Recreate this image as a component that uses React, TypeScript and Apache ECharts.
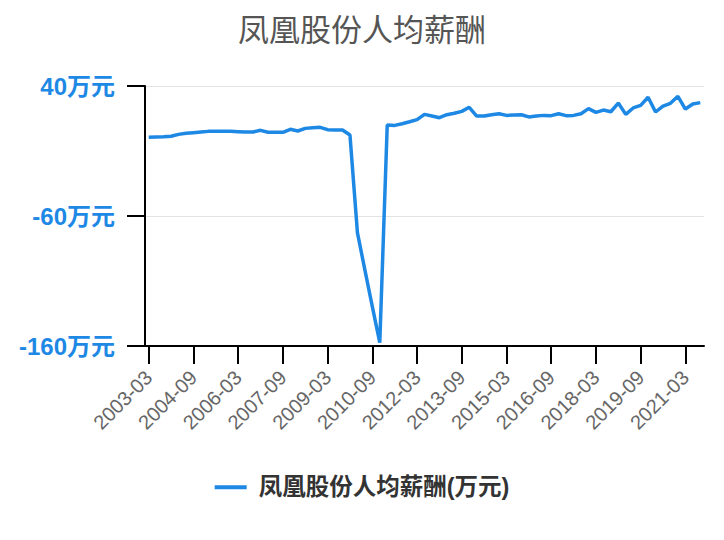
import React, { useEffect, useRef } from 'react';
import * as echarts from 'echarts';

const quarters: string[] = [
  '2003-03', '2003-06', '2003-09', '2003-12', '2004-03', '2004-06', '2004-09', '2004-12',
  '2005-03', '2005-06', '2005-09', '2005-12', '2006-03', '2006-06', '2006-09', '2006-12',
  '2007-03', '2007-06', '2007-09', '2007-12', '2008-03', '2008-06', '2008-09', '2008-12',
  '2009-03', '2009-06', '2009-09', '2009-12', '2010-03', '2010-06', '2010-09', '2010-12',
  '2011-03', '2011-06', '2011-09', '2011-12', '2012-03', '2012-06', '2012-09', '2012-12',
  '2013-03', '2013-06', '2013-09', '2013-12', '2014-03', '2014-06', '2014-09', '2014-12',
  '2015-03', '2015-06', '2015-09', '2015-12', '2016-03', '2016-06', '2016-09', '2016-12',
  '2017-03', '2017-06', '2017-09', '2017-12', '2018-03', '2018-06', '2018-09', '2018-12',
  '2019-03', '2019-06', '2019-09', '2019-12', '2020-03', '2020-06', '2020-09', '2020-12',
  '2021-03', '2021-06', '2021-09',
];

// 人均薪酬 (万元)
const salary: number[] = [
  0.5, 0.8, 0.9, 1.3, 2.8, 3.6, 4.1, 4.6, 5.1, 5.1,
  5.1, 5.1, 4.9, 4.6, 4.6, 5.9, 4.4, 4.4, 4.4, 6.7,
  5.4, 7.4, 7.9, 8.2, 6.4, 6.2, 6.2, 2.3, -72.8, -101.5,
  -129.7, -157.5, 10, 9.7, 11, 12.5, 14.1, 18.2, 16.9, 15.6,
  17.9, 19, 20.5, 23.6, 16.9, 16.9, 17.9, 18.7, 17.4, 17.7,
  17.9, 16.2, 16.9, 17.4, 17.2, 18.7, 17.2, 17.4, 18.7, 22.6,
  19.7, 21.5, 20.2, 26.9, 18.2, 23.1, 25.1, 31.3, 20, 24.6,
  26.7, 32.1, 22.3, 26.2, 27.2,
];

const yMin = -160;
const yMax = 40;
const yStep = 100;

const BLUE = '#1e88e5';
const FONT = '"Liberation Sans", Arial, "Noto Sans CJK SC", sans-serif';

const App: React.FC = () => {
  const chartRef = useRef<HTMLDivElement>(null);

  useEffect(() => {
    document.body.style.margin = '0';
    if (!chartRef.current) return;
    const chart = echarts.init(chartRef.current, undefined, { renderer: 'svg' });

    const option: echarts.EChartsOption = {
      animation: false,
      textStyle: { fontFamily: FONT },
      title: {
        text: '凤凰股份人均薪酬',
        left: 'center',
        top: 10,
        textStyle: { fontSize: 31, fontWeight: 'normal', color: '#555', fontFamily: FONT },
      },
      legend: {
        bottom: 36,
        left: 'center',
        icon: 'rect',
        itemWidth: 32,
        itemHeight: 4,
        textStyle: { fontSize: 23.5, fontWeight: 'bold', color: '#333', padding: [0, 0, 0, 7], fontFamily: FONT },
        data: ['凤凰股份人均薪酬(万元)'],
      },
      grid: { left: 145, right: 20, top: 86, bottom: 194, containLabel: false },
      xAxis: {
        type: 'category',
        data: quarters,
        boundaryGap: true,
        axisLine: { show: true, onZero: false, lineStyle: { color: '#000', width: 2 } },
        axisTick: {
          show: true,
          interval: 5,
          alignWithLabel: true,
          length: 18,
          lineStyle: { color: '#000', width: 2 },
        },
        axisLabel: { interval: 5, rotate: 45, margin: 28, fontSize: 20, color: '#666', fontFamily: FONT },
      },
      yAxis: {
        type: 'value',
        min: yMin,
        max: yMax,
        interval: yStep,
        axisLine: { show: true, lineStyle: { color: '#000', width: 2 } },
        axisTick: { show: true, length: 18, lineStyle: { color: '#000', width: 2 } },
        axisLabel: {
          formatter: '{value}万元',
          margin: 30,
          fontSize: 24,
          fontWeight: 'bold',
          color: BLUE,
          fontFamily: FONT,
        },
        splitLine: { lineStyle: { color: '#e3e3e3', width: 1 } },
      },
      series: [
        {
          name: '凤凰股份人均薪酬(万元)',
          type: 'line',
          data: salary,
          showSymbol: false,
          symbol: 'none',
          lineStyle: { color: BLUE, width: 3.5 },
          itemStyle: { color: BLUE },
        },
      ],
    };

    chart.setOption(option);
    return () => chart.dispose();
  }, []);

  return <div ref={chartRef} style={{ width: 724, height: 540 }} />;
};

export default App;
